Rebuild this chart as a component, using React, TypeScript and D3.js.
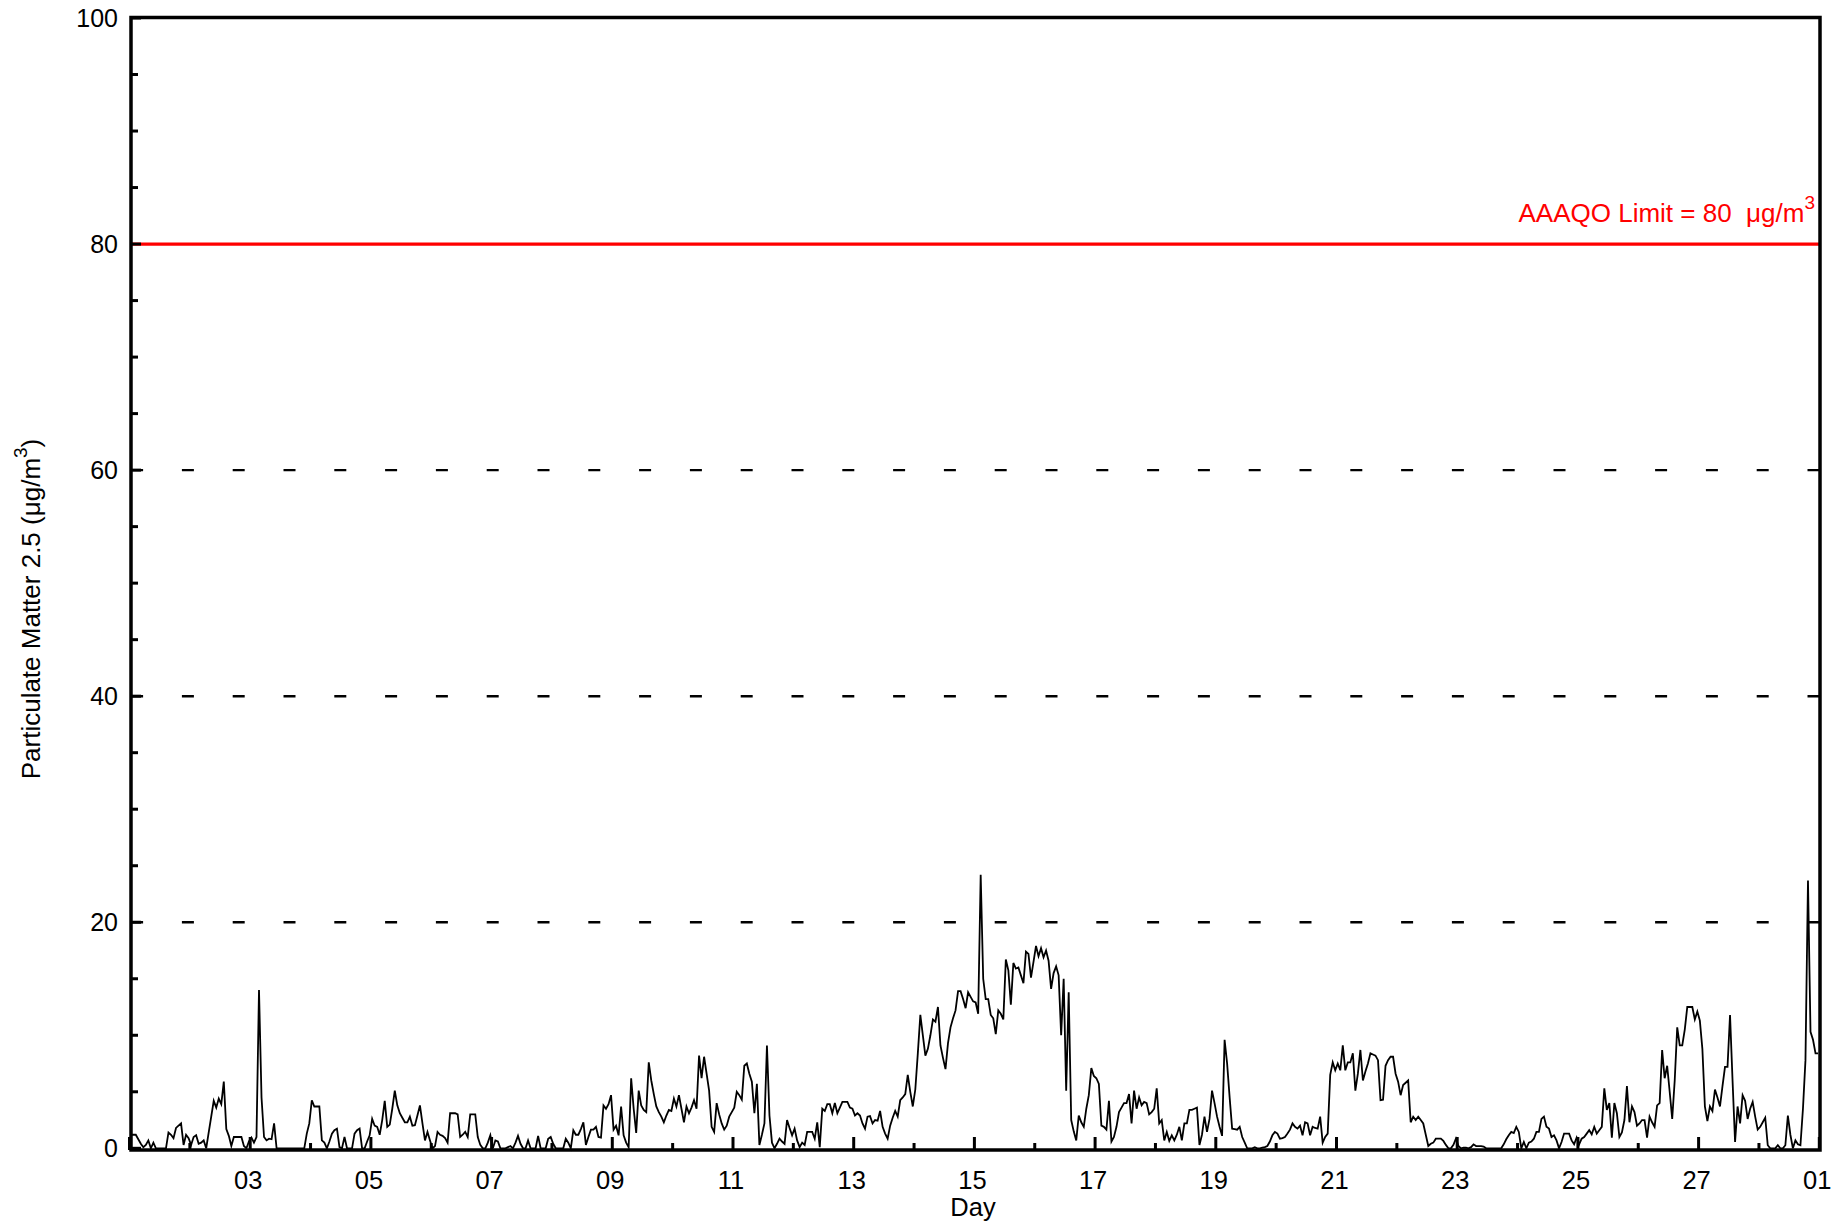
import React from "react";
import * as d3 from "d3";

// Hourly PM2.5 readings (µg/m³), one array per day of February
const DAY01 = [1.2,1.2,1.2,0.8,0.4,0.1,0.3,0.7,0,0.5,0,0,0,0,0,1.4,1.2,0.9,1.8,2.0,2.2,0.3,1.2,0.9];
const DAY02 = [0.3,1.0,1.15,0.4,0.5,0.7,0,1.4,2.8,4.2,3.6,4.4,3.9,5.9,1.7,1.1,0.2,1.0,1.0,1.0,1.0,0.2,0,0.6];
const DAY03 = [0.95,0.5,1.0,14.0,4.5,1.0,0.7,0.85,0.8,2.2,0,0,0,0,0,0,0,0,0,0,0,0,1.3,2.2];
const DAY04 = [4.25,3.7,3.7,3.7,0.7,0.5,0,0.6,1.3,1.6,1.74,0.1,0,1.0,0,0,0,1.3,1.6,1.74,0,0,0.6,1.15];
const DAY05 = [2.6,2.0,1.9,1.2,2.5,4.2,1.9,2.1,3.5,5.1,3.8,3.1,2.7,2.3,2.3,2.8,2.0,2.05,2.9,3.8,2.2,0.7,1.45,0.7];
const DAY06 = [0,0.2,1.45,1.2,1.1,0.9,0.5,3.1,3.1,3.1,3.0,1.0,1.2,1.45,1.0,3.0,3.0,3.0,1.0,0.3,0,0,0.5,1.15];
const DAY07 = [0,0.7,0.6,0,0,0,0.1,0.2,0,0.5,1.1,0.4,0,0,0.7,0,0,0,1.1,0,0,0,0.85,1.0];
const DAY08 = [0.4,0,0,0,0,0.85,0.5,0,1.6,1.2,1.2,1.7,2.3,0.3,1.0,1.65,1.65,1.9,1.0,0.95,3.8,3.5,3.9,4.7];
const DAY09 = [1.65,2.0,1.15,3.7,1.15,0.5,0.1,6.2,3.5,1.36,5.1,3.8,3.4,3.2,7.6,6.0,4.8,3.7,3.2,2.8,2.3,2.9,3.4,3.3];
const DAY10 = [4.4,3.7,4.7,3.5,2.3,3.7,3.1,3.6,4.25,3.5,8.2,6.2,8.1,6.6,5.1,1.9,1.45,4.0,3.0,2.2,1.65,2.0,2.8,3.2];
const DAY11 = [3.6,5.0,4.7,4.3,7.3,7.5,6.6,5.9,3.1,5.7,0.3,1.2,2.2,9.1,2.9,0.5,0,0.4,0.85,0.6,0.4,2.5,1.8,1.15];
const DAY12 = [1.74,0.7,0.1,0.5,0.3,1.45,1.45,1.45,0.85,2.3,0.1,3.5,3.3,3.9,3.9,3.1,4.0,3.1,3.6,4.1,4.1,4.1,3.6,3.5];
const DAY13 = [2.9,3.1,2.9,2.2,1.74,2.8,2.85,2.2,2.5,2.45,3.3,1.9,1.3,0.85,2.0,2.7,3.3,2.8,4.25,4.5,4.8,6.5,5.0,3.7];
const DAY14 = [5.2,8.4,11.8,10.0,8.2,8.8,10.0,11.4,11.2,12.5,9.1,8.0,7.0,9.3,10.7,11.5,12.2,13.9,13.9,13.2,12.4,13.8,13.4,13.0];
const DAY15 = [12.9,11.9,24.2,15.0,13.2,13.2,11.8,11.5,10.1,12.2,11.9,11.4,16.7,15.75,12.7,16.4,15.9,16.0,15.3,14.6,17.4,17.2,15.1,16.5];
const DAY16 = [17.9,17.0,17.7,16.9,17.5,16.6,14.1,15.5,16.1,15.3,10.0,15.0,5.1,13.8,2.5,1.5,0.7,2.9,2.3,1.9,3.5,4.7,7.1,6.4];
const DAY17 = [6.2,5.7,2.0,1.9,1.65,4.2,0.6,1.0,1.9,3.2,3.6,4.0,4.0,4.8,2.2,5.1,3.5,4.5,3.8,4.1,4.0,3.0,3.2,3.5];
const DAY18 = [5.3,2.2,2.5,0.7,1.45,0.65,1.15,0.7,1.2,1.9,0.7,2.2,2.2,3.4,3.4,3.5,3.6,0.3,1.2,2.8,1.45,2.6,5.1,4.0];
const DAY19 = [2.8,1.9,1.1,9.6,7.5,4.5,1.74,1.7,1.65,1.9,1.0,0.5,0,0,0,0.1,0,0,0.05,0.1,0.2,0.6,1.15,1.45];
const DAY20 = [1.3,0.85,0.9,1.0,1.3,1.65,2.2,1.9,1.74,2.0,1.15,2.3,2.2,1.15,1.9,1.8,1.74,2.8,0.5,1.0,1.3,6.5,7.6,6.9];
const DAY21 = [7.5,6.9,9.1,6.9,7.6,7.6,8.4,5.1,6.6,8.7,6.0,6.8,7.5,8.4,8.3,8.2,7.8,4.25,4.3,7.3,7.8,8.1,8.1,6.6];
const DAY22 = [5.9,4.7,5.6,5.8,6.0,2.3,2.8,2.5,2.8,2.5,2.2,1.2,0.2,0.4,0.5,0.85,0.85,0.85,0.65,0.3,0,0,0.3,0.85];
const DAY23 = [0.2,0,0.05,0.05,0,0.1,0.35,0.2,0.2,0.2,0.15,0,0,0,0,0,0,0,0.35,0.8,1.15,1.45,1.35,1.9];
const DAY24 = [1.45,0,0.56,0,0.5,0.6,0.85,1.45,1.45,2.6,2.8,1.9,1.74,1.0,1.15,0.7,0,0.56,1.3,1.3,1.3,0.7,0.35,0.95];
const DAY25 = [0.35,0.85,1.0,1.3,1.6,1.24,1.9,1.3,1.6,1.9,5.3,3.4,4.0,0.95,4.0,3.1,1.0,1.4,2.5,5.5,2.3,3.7,3.2,2.0];
const DAY26 = [2.2,2.5,2.5,0.95,2.8,2.3,1.9,3.8,4.0,8.7,6.2,7.3,5.0,2.6,6.0,10.7,9.1,9.1,10.5,12.5,12.5,12.5,11.4,12.1];
const DAY27 = [11.3,8.8,3.7,2.4,3.7,3.3,5.2,4.5,3.7,5.5,7.2,7.2,11.8,6.0,0.56,3.7,2.2,4.7,4.2,2.6,3.5,4.1,2.8,1.65];
const DAY28 = [1.9,2.3,2.7,0.27,0,0,0,0.27,0,0,0.27,2.9,1.2,0,0.7,0.35,0.27,3.5,7.8,23.7,10.3,9.6,8.4,8.4];

const DAYS = [DAY01,DAY02,DAY03,DAY04,DAY05,DAY06,DAY07,DAY08,DAY09,DAY10,DAY11,DAY12,DAY13,DAY14,
  DAY15,DAY16,DAY17,DAY18,DAY19,DAY20,DAY21,DAY22,DAY23,DAY24,DAY25,DAY26,DAY27,DAY28];

const Y_TICKS = [0, 20, 40, 60, 80, 100];
const GRID_VALUES = [20, 40, 60];
const LIMIT_VALUE = 80;
const LIMIT_LABEL = "AAAQO Limit = 80  \u03bcg/m";
const Y_TITLE = "Particulate Matter 2.5 (\u03bcg/m";
const X_TITLE = "Day";

const START = new Date(Date.UTC(2021, 1, 1));
const END = new Date(Date.UTC(2021, 2, 1));

const W = 1846, H = 1221;
const PL = 129.5, PR = 1819.3, PT = 18, PB = 1148.3;
const FONT = "'Liberation Sans', Arial, Helvetica, sans-serif";

export default function App() {
  const x = d3.scaleUtc().domain([START, END]).range([PL, PR]);
  const y = d3.scaleLinear().domain([0, 100]).range([PB, PT]);

  const points = DAYS.flat().map((v, i) => ({
    t: new Date(START.getTime() + (i + 0.5) * 3600e3),
    v,
  }));
  const line = d3.line<{ t: Date; v: number }>().x(d => x(d.t)).y(d => y(d.v));

  const dayTicks = d3.utcDay.range(START, d3.utcDay.offset(END, 1));
  const fmt = d3.utcFormat("%d");
  const minorY = d3.range(0, 101, 5).filter(v => v % 20 !== 0);

  const boxL = 131, boxR = 1820, boxT = 17.5, boxB = 1150;

  return (
    <svg width={W} height={H} style={{ position: "absolute", left: 0, top: 0, background: "#fff" }}
      fontFamily={FONT}>
      <rect x={0} y={0} width={W} height={H} fill="#fff" />
      {/* dashed grid */}
      {GRID_VALUES.map(v => (
        <line key={"g" + v} x1={boxL} x2={boxR} y1={y(v)} y2={y(v)} stroke="#000" strokeWidth={2.4}
          strokeDasharray="12 38.8" strokeDashoffset={50.7} />
      ))}
      {/* limit line */}
      <line x1={boxL} x2={boxR} y1={y(LIMIT_VALUE)} y2={y(LIMIT_VALUE)} stroke="#ff0000" strokeWidth={3.2} />
      <text x={1815} y={221.7} fill="#ff0000" fontSize={26} textAnchor="end" style={{ whiteSpace: "pre" }}>
        {LIMIT_LABEL}
        <tspan fontSize={19} dy={-12.5}>3</tspan>
      </text>
      {/* data */}
      <path d={line(points) || ""} fill="none" stroke="#000" strokeWidth={1.8} strokeLinejoin="miter" />
      {/* y ticks */}
      {Y_TICKS.map(v => (
        <g key={"yt" + v}>
          <line x1={boxL} x2={boxL + 10} y1={y(v)} y2={y(v)} stroke="#000" strokeWidth={3} />
          <text x={118} y={y(v)} dy="0.36em" fontSize={25} textAnchor="end">{v}</text>
        </g>
      ))}
      {minorY.map(v => (
        <line key={"ym" + v} x1={boxL} x2={boxL + 7} y1={y(v)} y2={y(v)} stroke="#000" strokeWidth={3} />
      ))}
      {/* x ticks */}
      {dayTicks.map((d, i) => {
        const major = i % 2 === 0;
        return (
          <line key={"xt" + i} x1={x(d)} x2={x(d)} y1={boxB} y2={boxB - (major ? 13 : 7)} stroke="#000" strokeWidth={3} />
        );
      })}
      {dayTicks.map((d, i) =>
        i % 2 === 0 && i > 0 ? (
          <text key={"xl" + i} x={x(d) - 2} y={1189} fontSize={25.5} textAnchor="middle">{fmt(d)}</text>
        ) : null
      )}
      {/* frame */}
      <rect x={boxL} y={boxT} width={boxR - boxL} height={boxB - boxT} fill="none" stroke="#000" strokeWidth={3.5} />
      {/* titles */}
      <text x={973} y={1216} fontSize={25.5} textAnchor="middle">{X_TITLE}</text>
      <text transform="translate(39.5,609) rotate(-90)" fontSize={26} textAnchor="middle">
        {Y_TITLE}
        <tspan fontSize={19} dy={-12.5}>3</tspan>
        <tspan dy={12.5}>)</tspan>
      </text>
    </svg>
  );
}
